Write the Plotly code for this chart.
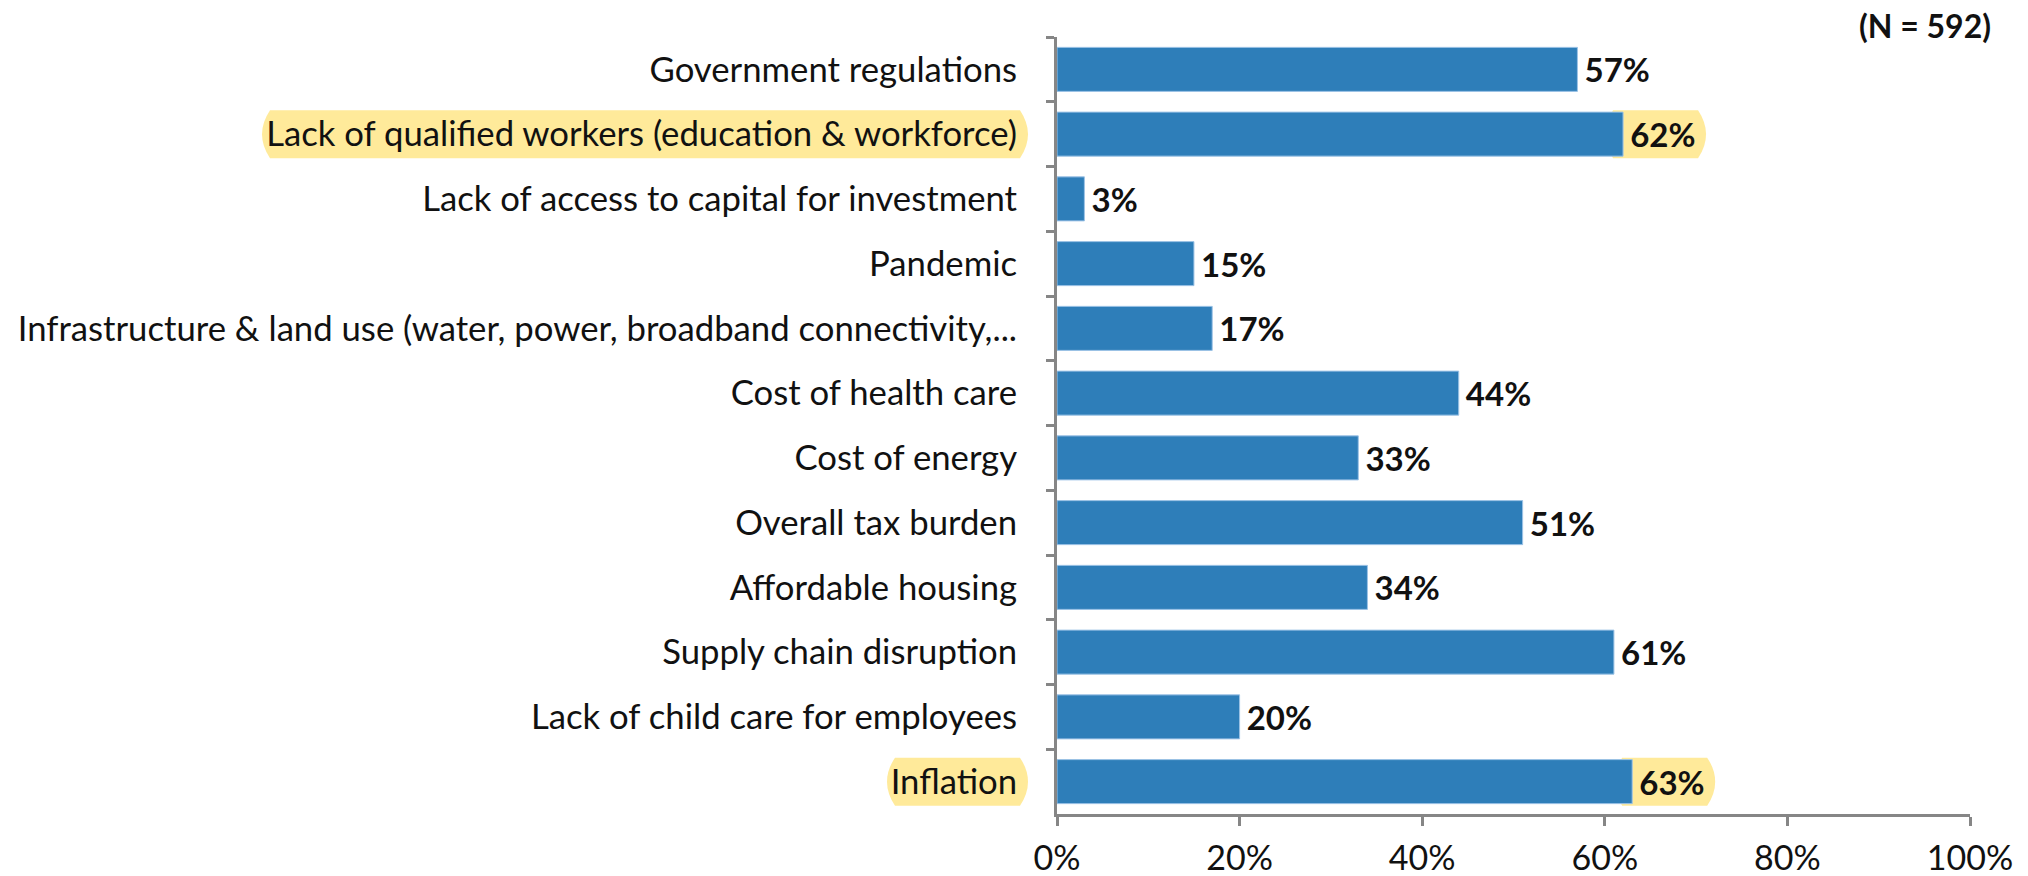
import plotly.graph_objects as go

categories = [
    "Government regulations",
    "Lack of qualified workers (education & workforce)",
    "Lack of access to capital for investment",
    "Pandemic",
    "Infrastructure & land use (water, power, broadband connectivity,...",
    "Cost of health care",
    "Cost of energy",
    "Overall tax burden",
    "Affordable housing",
    "Supply chain disruption",
    "Lack of child care for employees",
    "Inflation",
]
values = [57, 62, 3, 15, 17, 44, 33, 51, 34, 61, 20, 63]
highlighted = ["Lack of qualified workers (education & workforce)", "Inflation"]
x_ticks = [0, 20, 40, 60, 80, 100]
x_ticktext = ["0%", "20%", "40%", "60%", "80%", "100%"]
note = "(N = 592)"

FONT = "Lato"
BAR = "#2E7EB9"
HL = "#FFEA9A"
AXIS = "#868686"

W, H = 2028, 876
ML, MR, MT, MB = 1057, 58, 37, 62

fig = go.Figure()
fig.add_trace(go.Bar(
    y=categories, x=values, orientation="h",
    marker=dict(color=BAR, line=dict(color="#9DC3E6", width=1)),
    text=[f"\u2009{v}%" for v in values], textposition="outside",
    textfont=dict(family=FONT, size=33, color="#111111", weight="bold"),
    cliponaxis=False, hoverinfo="skip",
))

# highlight extents (pixels relative to the plot-area left edge)
label_extents = {categories[1]: (-795, -29), categories[11]: (-170, -29)}
B = 8
shapes = []
def capsule(x0, x1, h, b):
    return (f"M {x0},{-h} L {x1},{-h} Q {x1 + 2*b},0 {x1},{h} "
            f"L {x0},{h} Q {x0 - 2*b},0 {x0},{-h} Z")

for cat in highlighted:
    i = categories.index(cat)
    e0, e1 = label_extents[cat]
    shapes.append(dict(type="path", xref="paper", yref="y",
                       xsizemode="pixel", ysizemode="pixel",
                       xanchor=0, yanchor=cat,
                       path=capsule(e0 + B, e1 - B, 24, B),
                       fillcolor=HL, line=dict(width=0), layer="below"))
    shapes.append(dict(type="path", xref="x", yref="y",
                       xsizemode="pixel", ysizemode="pixel",
                       xanchor=values[i], yanchor=cat,
                       path=capsule(-10, 75, 24, B),
                       fillcolor=HL, line=dict(width=0), layer="below"))

fig.update_layout(
    width=W, height=H,
    margin=dict(l=ML, r=MR, t=MT, b=MB, pad=0, autoexpand=False),
    paper_bgcolor="white", plot_bgcolor="rgba(0,0,0,0)",
    showlegend=False, bargap=0.32,
    font=dict(family=FONT, size=33, color="#111111"),
    shapes=shapes,
    xaxis=dict(range=[0, 100], tickvals=x_ticks, ticktext=x_ticktext,
               showgrid=False, zeroline=False, showline=True,
               linecolor=AXIS, linewidth=3, ticks="outside", ticklen=9,
               tickwidth=3, tickcolor=AXIS, ticklabelstandoff=3,
               tickfont=dict(family=FONT, size=34, color="#111111"),
               automargin=False, fixedrange=True),
    yaxis=dict(categoryorder="array", categoryarray=categories,
               autorange="reversed", tickson="boundaries",
               showgrid=False, zeroline=False, showline=True,
               linecolor=AXIS, linewidth=3, ticks="outside", ticklen=8,
               tickwidth=3, tickcolor=AXIS, ticklabelstandoff=30,
               tickfont=dict(family=FONT, size=34.7, color="#111111"),
               automargin=False, fixedrange=True),
    annotations=[dict(text=note, xref="paper", yref="paper",
                      x=1.0252, y=1.0142, xanchor="right", yanchor="middle",
                      showarrow=False,
                      font=dict(family=FONT, size=32, color="#111111", weight="bold"))],
)

fig.write_html("out.html")
